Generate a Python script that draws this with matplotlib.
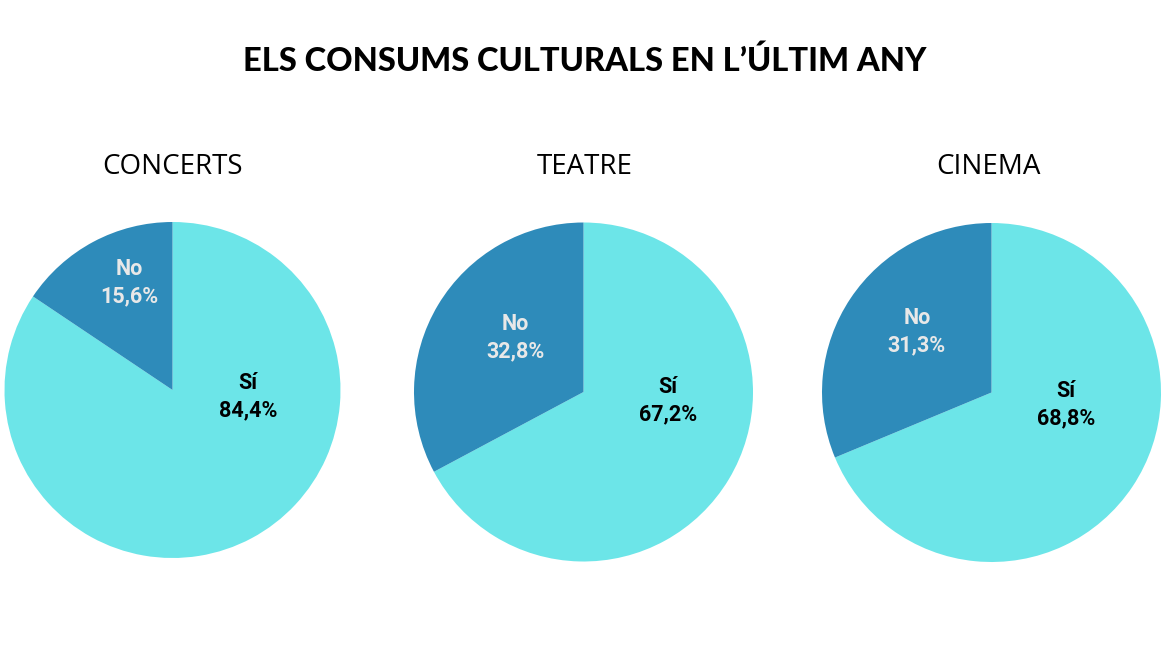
import matplotlib.pyplot as plt

# dades
categories = ["Sí", "No"]
titols = ["CONCERTS", "TEATRE", "CINEMA"]
si_valors = [84.4, 67.2, 68.8]
no_valors = [15.6, 32.8, 31.3]

colors = ["#6CE5E8", "#2E8BBA"]
text_colors = ["#000000", "#E8E8E8"]

# posicio de cada pastis en pixels (centre x, centre y, radi)
pastissos = [(172.5, 390, 168), (583.5, 392, 169.5), (991.5, 392.5, 169.5)]
# posicio de les etiquetes relativa al radi (Sí, No)
pos_etiquetes = [
    [(0.45, -0.04), (-0.26, 0.64)],
    [(0.50, -0.05), (-0.40, 0.32)],
    [(0.44, -0.07), (-0.44, 0.36)],
]
# posicio dels subtitols (x en pixels)
sub_x = [173, 585, 988]

W, H = 1170, 658
fig = plt.figure(figsize=(W / 100, H / 100), dpi=100)
fig.patch.set_facecolor("white")

fig.text(585 / W, 1 - 61 / H, "ELS CONSUMS CULTURALS EN L’ÚLTIM ANY",
         ha="center", va="center", fontsize=23.5, fontweight="black",
         family="Lato", color="black")

for i, (cx, cy, r) in enumerate(pastissos):
    ax = fig.add_axes([(cx - r) / W, 1 - (cy + r) / H, 2 * r / W, 2 * r / H])
    valors = [si_valors[i], no_valors[i]]
    ax.pie(valors, colors=colors, startangle=90, counterclock=False,
           radius=1, wedgeprops={"linewidth": 0})
    ax.set_xlim(-1, 1)
    ax.set_ylim(-1, 1)
    ax.set_aspect("auto")
    ax.axis("off")
    for j, cat in enumerate(categories):
        txt = f"{cat}\n{valors[j]:.1f}%".replace(".", ",")
        x, y = pos_etiquetes[i][j]
        ax.text(x, y, txt, ha="center", va="center", fontsize=15.5,
                fontweight="bold", family="Roboto", color=text_colors[j],
                linespacing=1.3)
    fig.text(sub_x[i] / W, 1 - 167 / H, titols[i], ha="center", va="center",
             fontsize=20, family="Open Sans", color="black")

fig.savefig("out.png", dpi=100)
